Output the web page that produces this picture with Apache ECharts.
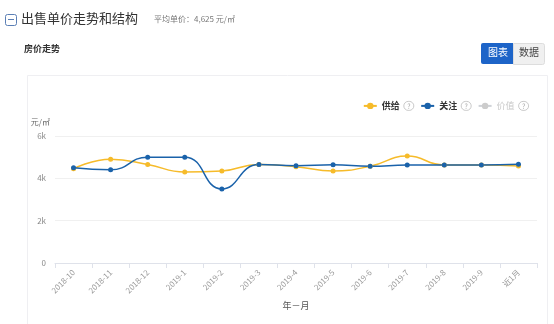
<!DOCTYPE html>
<html>
<head>
<meta charset="utf-8">
<script src="https://cdn.jsdelivr.net/npm/echarts@6/dist/echarts.min.js"></script>
<style>
html,body{margin:0;padding:0;background:#fff;}
#chart{width:554px;height:324px;}
</style>
</head>
<body>
<div id="chart"></div>
<script>
// Month labels along the x axis
var months = ['2018-10','2018-11','2018-12','2019-1','2019-2','2019-3','2019-4','2019-5','2019-6','2019-7','2019-8','2019-9','近1月'];
// Unit prices (元/㎡)
var supply = [4450, 4900, 4650, 4300, 4350, 4650, 4550, 4350, 4570, 5050, 4630, 4630, 4580];
var attention = [4500, 4400, 5000, 5000, 3500, 4650, 4600, 4640, 4570, 4630, 4630, 4630, 4660];
var value = [];
var yTicks = [0, 2000, 4000, 6000];

var font = '"Noto Sans CJK SC", "Noto Sans", sans-serif';
var chart = echarts.init(document.getElementById('chart'));

var qRich = {
  q: {
    fontSize: 7, color: '#aaa', width: 8, height: 8, align: 'center',
    borderColor: '#bbb', borderWidth: 0.8, borderRadius: 5, padding: [1, 1, 0, 1],
    lineHeight: 9
  },
  n: { fontSize: 9, color: '#333', fontWeight: 'bold', padding: [0, 4, 0, 0] },
  g: { fontSize: 9, color: '#c8c8c8', padding: [0, 4, 0, 0] }
};

chart.setOption({
  animation: false,
  textStyle: { fontFamily: font },
  graphic: [
    // header
    { type: 'rect', left: 5, top: 14, shape: { width: 11, height: 11, r: 2 },
      style: { fill: '#fff', stroke: '#5b7fb5', lineWidth: 1 } },
    { type: 'rect', left: 8, top: 19, shape: { width: 6, height: 1 },
      style: { fill: '#5b7fb5' } },
    { type: 'text', left: 21, top: 12, style: { text: '出售单价走势和结构', font: '13px ' + font, fill: '#333' } },
    { type: 'text', left: 154, top: 15, style: { text: '平均单价：4,625 元/㎡', font: '8px ' + font, fill: '#777' } },
    { type: 'text', left: 24, top: 44, style: { text: '房价走势', font: 'bold 9px ' + font, fill: '#333' } },
    // view toggle
    { type: 'rect', left: 481, top: 43, shape: { width: 32, height: 21, r: [2, 0, 0, 2] },
      style: { fill: '#1d64c8' } },
    { type: 'text', left: 488, top: 47, style: { text: '图表', font: '10px ' + font, fill: '#fff' } },
    { type: 'rect', left: 513, top: 43, shape: { width: 31, height: 21, r: [0, 2, 2, 0] },
      style: { fill: '#f0f0f0', stroke: '#ddd', lineWidth: 1 } },
    { type: 'text', left: 519, top: 47, style: { text: '数据', font: '10px ' + font, fill: '#444' } },
    // chart panel
    { type: 'rect', left: 25, top: 73, z: -1, shape: { width: 520, height: 249 },
      style: { fill: 'none', stroke: '#efeff2', lineWidth: 1 } }
  ],
  legend: {
    right: 20, top: 96, itemGap: 6, itemWidth: 13, itemHeight: 8,
    data: ['供给', '关注', '价值'],
    selected: { '价值': false },
    inactiveColor: '#ccc',
    formatter: function (name) {
      return (name === '价值' ? '{g|' : '{n|') + name + '}{q|?}';
    },
    textStyle: { fontSize: 9, rich: qRich }
  },
  grid: { left: 55, right: 17, top: 136, bottom: 61 },
  xAxis: {
    type: 'category', data: months, boundaryGap: true,
    name: '年－月', nameLocation: 'middle', nameGap: 38,
    nameTextStyle: { fontSize: 9, color: '#555' },
    axisLine: { lineStyle: { color: '#dfe2ea' } },
    axisTick: { show: true, length: 5, lineStyle: { color: '#dfe2ea' } },
    axisLabel: { rotate: 45, fontSize: 8, color: '#999', margin: 8, interval: 0 }
  },
  yAxis: {
    type: 'value', min: yTicks[0], max: yTicks[yTicks.length - 1], interval: 2000,
    name: '元/㎡', nameLocation: 'end', nameGap: 10,
    nameTextStyle: { fontSize: 8, color: '#666', align: 'right', padding: [0, 5, 0, 0] },
    axisLine: { show: false }, axisTick: { show: false },
    axisLabel: { fontSize: 8, color: '#888', margin: 9,
      formatter: function (v) { return v === 0 ? '0' : (v / 1000) + 'k'; } },
    splitLine: { lineStyle: { color: '#f0f0f0' } }
  },
  series: [
    { name: '供给', type: 'line', data: supply, smooth: true, symbol: 'circle', symbolSize: 5,
      itemStyle: { color: '#f6bb2a' }, lineStyle: { width: 1.5, color: '#f6bb2a' } },
    { name: '关注', type: 'line', data: attention, smooth: true, symbol: 'circle', symbolSize: 5,
      itemStyle: { color: '#1a62aa' }, lineStyle: { width: 1.5, color: '#1a62aa' } },
    { name: '价值', type: 'line', data: value, symbol: 'circle', symbolSize: 5,
      itemStyle: { color: '#bbb' }, lineStyle: { color: '#bbb' } }
  ]
});
</script>
</body>
</html>
